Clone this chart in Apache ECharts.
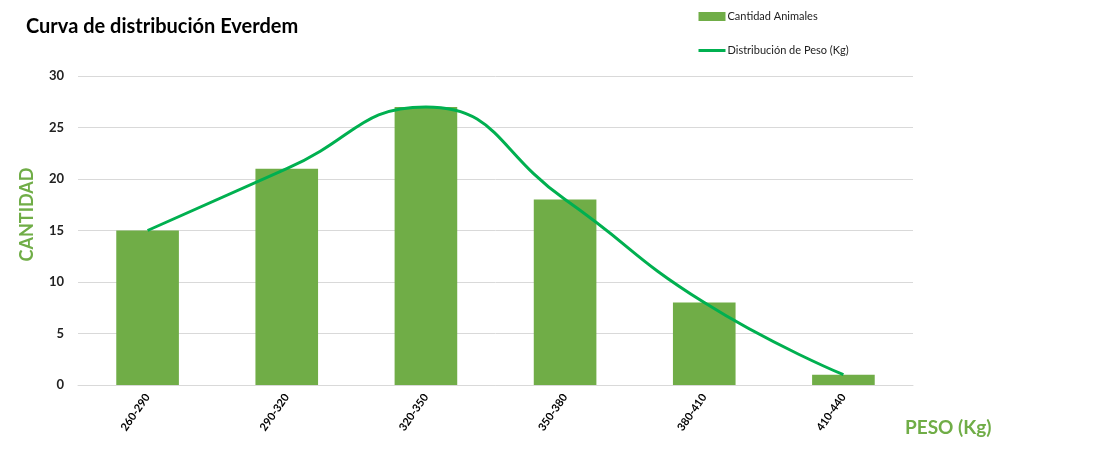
<!DOCTYPE html>
<html><head><meta charset="utf-8">
<script src="https://cdn.jsdelivr.net/npm/echarts@6/dist/echarts.min.js"></script>
<style>html,body{margin:0;padding:0;background:#fff}#c{width:1104px;height:473px}</style>
</head><body><div id="c"></div>
<script>
const categories = ['260-290','290-320','320-350','350-380','380-410','410-440'];
const cantidadAnimales = [15, 21, 27, 18, 8, 1];
const distribucionPeso = [15, 21, 27, 18, 8, 1];
const yTicks = [0, 5, 10, 15, 20, 25, 30];

const chart = echarts.init(document.getElementById('c'));
const F = 'Lato, "Open Sans", sans-serif';
chart.setOption({
  animation: false,
  title: { text: 'Curva de distribución Everdem', left: 21, top: 12,
    textStyle: { fontFamily: F, fontSize: 20, fontWeight: 'bold', color: '#000' } },
  legend: { orient: 'vertical', left: 692, top: 6, itemGap: 23, itemWidth: 27, itemHeight: 9,
    textStyle: { fontFamily: F, fontSize: 11, color: '#222', padding: [0, 0, 0, -3] },
    data: [
      { name: 'Cantidad Animales', icon: 'rect' },
      { name: 'Distribución de Peso (Kg)', itemStyle: { opacity: 0 }, lineStyle: { width: 3 } }
    ] },
  grid: { left: 78, right: 191, top: 76, bottom: 88, containLabel: false, outerBoundsMode: 'none' },
  xAxis: {
    type: 'category', data: categories,
    name: 'PESO (Kg)', nameLocation: 'end', nameGap: 0,
    nameTextStyle: { fontFamily: F, fontSize: 19, fontWeight: 'bold', color: '#70AD47',
      padding: [33, 0, 0, -8], verticalAlign: 'top', align: 'left' },
    axisLine: { lineStyle: { color: '#d9d9d9', width: 1 } },
    axisTick: { show: false },
    axisLabel: { rotate: 55, fontFamily: F, fontSize: 11, fontWeight: 'bold', color: '#000', margin: 10 }
  },
  yAxis: {
    type: 'value', min: 0, max: 30, interval: 5,
    name: 'CANTIDAD', nameLocation: 'middle', nameGap: 42, nameRotate: 90,
    nameTextStyle: { fontFamily: F, fontSize: 18, fontWeight: 'bold', color: '#70AD47',
      padding: [0, 0, 0, 32] },
    axisLine: { show: false }, axisTick: { show: false },
    axisLabel: { fontFamily: F, fontSize: 13, fontWeight: 'bold', color: '#222', margin: 14,
      formatter: v => yTicks.includes(v) ? String(v) : '' },
    splitLine: { lineStyle: { color: '#d9d9d9', width: 1 } }
  },
  series: [
    { name: 'Cantidad Animales', type: 'bar', data: cantidadAnimales, barWidth: '45%',
      itemStyle: { color: '#70AD47' } },
    { name: 'Distribución de Peso (Kg)', type: 'line', data: distribucionPeso, smooth: 0.5,
      showSymbol: false, symbol: 'none', lineStyle: { color: '#00B050', width: 3 },
      itemStyle: { color: '#00B050' } }
  ]
});
</script></body></html>
